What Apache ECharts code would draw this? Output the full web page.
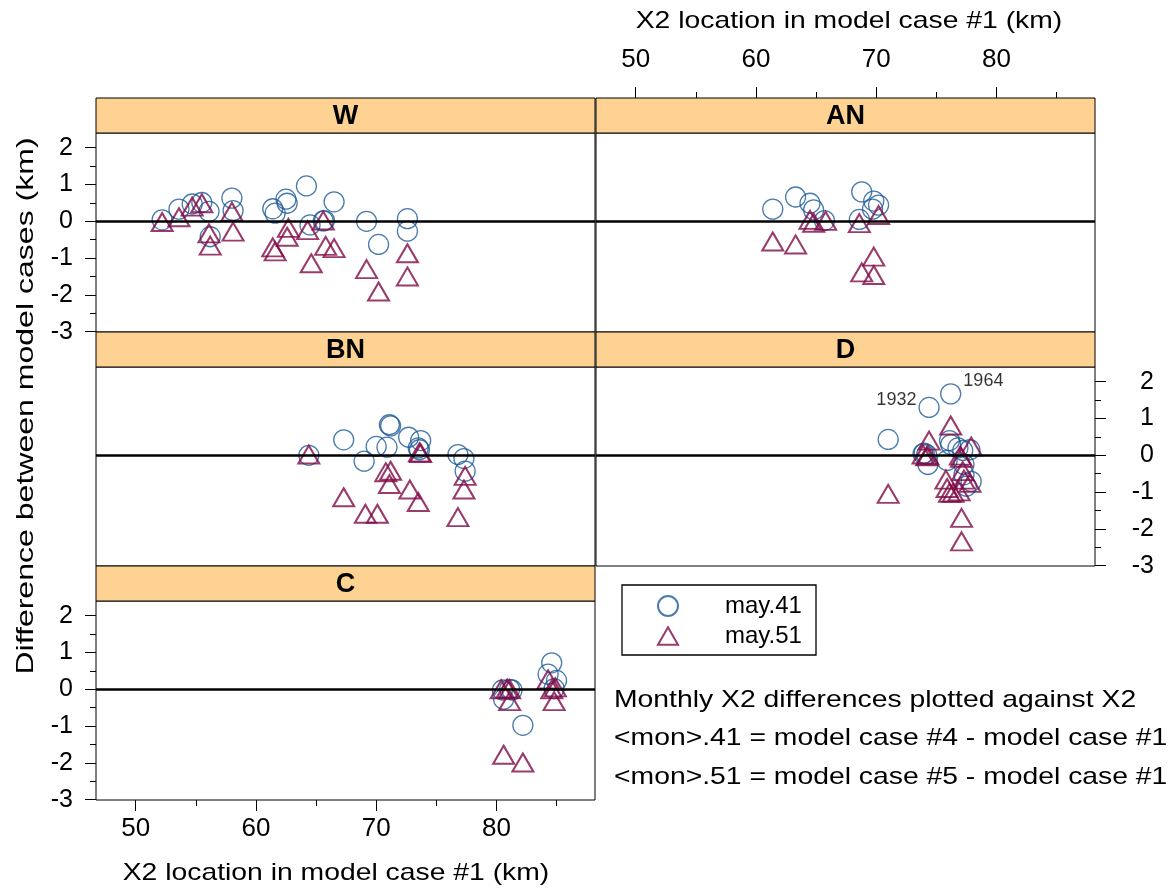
<!DOCTYPE html>
<html><head><meta charset="utf-8">
<script src="https://cdn.jsdelivr.net/npm/echarts@6/dist/echarts.min.js"></script>
<style>html,body{margin:0;padding:0;background:#fff}#c{width:1173px;height:892px}</style>
</head><body><div id="c"></div>
<script>
// ---------- data ----------
const panels = ['W', 'AN', 'BN', 'D', 'C'];
const seriesNames = ['may.41', 'may.51'];
const xTicks = [50, 60, 70, 80];
const xMinorTicks = [55, 65, 75, 85];
const yTicks = [-3, -2, -1, 0, 1, 2];
const yMinorTicks = [-2.5, -1.5, -0.5, 0.5, 1.5];
const xRange = [46.7, 88.2];
const yRange = [-3.01, 2.40];

const W_may41 = [[52.2,0.04],[53.6,0.33],[54.7,0.47],[55.5,0.51],[56.1,0.27],[56.2,-0.42],[58.0,0.63],[58.1,0.29],[61.4,0.34],[61.6,0.22],[62.5,0.60],[62.6,0.49],[64.2,0.96],[64.5,-0.10],[65.6,0.01],[65.7,0.02],[66.5,0.53],[69.2,0.0],[70.2,-0.63],[72.6,0.07],[72.6,-0.27]];
const W_may51 = [[52.2,-0.02],[53.6,0.11],[54.7,0.40],[55.5,0.49],[56.1,-0.33],[56.2,-0.66],[58.0,0.26],[58.1,-0.28],[61.4,-0.71],[61.6,-0.82],[62.7,-0.18],[62.6,-0.42],[64.3,-0.24],[64.6,-1.14],[65.6,0.02],[65.8,-0.67],[66.5,-0.73],[69.2,-1.30],[70.2,-1.91],[72.6,-0.87],[72.6,-1.50]];
const AN_may41 = [[61.4,0.33],[63.3,0.66],[64.5,0.49],[64.8,0.31],[65.7,0.02],[68.8,0.80],[69.8,0.55],[70.2,0.44],[68.6,0.05],[69.7,0.33]];
const AN_may51 = [[61.4,-0.55],[63.3,-0.63],[64.5,0.04],[64.8,-0.04],[65.8,0.01],[68.6,-0.05],[70.2,0.17],[69.8,-0.96],[68.8,-1.39],[69.8,-1.46]];
const BN_may41 = [[64.4,0.0],[67.3,0.42],[69.0,-0.16],[70.0,0.24],[70.9,0.22],[71.1,0.83],[71.2,0.80],[72.7,0.49],[73.7,0.40],[73.5,0.20],[73.6,0.15],[76.8,0.02],[77.3,-0.09],[77.4,-0.43]];
const BN_may51 = [[64.4,0.02],[67.3,-1.14],[69.1,-1.59],[70.1,-1.59],[70.8,-0.46],[71.2,-0.42],[71.1,-0.78],[72.8,-0.93],[73.5,-1.27],[73.6,0.08],[73.7,0.06],[77.4,-0.56],[77.3,-0.93],[76.8,-1.68]];
const D_may41 = [[74.4,1.30],[76.2,1.67],[71.0,0.43],[74.0,0.06],[74.2,0.02],[74.3,-0.25],[76.1,0.40],[76.2,0.29],[75.9,-0.14],[76.8,0.20],[77.2,0.13],[77.8,0.15],[77.3,-0.25],[77.3,-0.53],[77.9,-0.71],[77.5,-0.84],[73.9,0.04]];
const D_may41_years = ['1932', '1964'];
const D_may51 = [[71.0,-1.05],[74.4,0.40],[76.2,0.81],[73.9,0.02],[74.2,-0.03],[74.3,0.0],[77.9,0.24],[77.0,-0.01],[77.1,-0.07],[75.8,-0.66],[75.9,-0.89],[76.1,-1.02],[76.4,-1.02],[77.2,-0.43],[77.8,-0.75],[77.1,-1.70],[77.1,-2.34],[76.9,-0.98],[77.3,-0.66]];
const C_may41 = [[80.5,-0.02],[80.6,-0.27],[81.1,0.0],[81.3,-0.02],[82.2,-0.98],[84.6,0.72],[84.3,0.41],[85.0,0.24],[84.8,0.02]];
const C_may51 = [[80.4,0.0],[80.9,0.02],[81.1,0.0],[81.1,-0.32],[80.6,-1.78],[82.2,-1.99],[84.3,0.27],[84.9,0.05],[84.6,0.0],[84.8,-0.32]];

const xTitle = 'X2 location in model case #1 (km)';
const yTitle = 'Difference between model cases (km)';
const notes = ['Monthly X2 differences plotted against X2',
               '<mon>.41 = model case #4 - model case #1',
               '<mon>.51 = model case #5 - model case #1'];

const panelData = {
  W: [W_may41, W_may51], AN: [AN_may41, AN_may51], BN: [BN_may41, BN_may51],
  D: [D_may41, D_may51], C: [C_may41, C_may51]
};
const panelYears = { D: D_may41_years };

// ---------- layout / style ----------
const FONT = '"Liberation Sans", Arial, Helvetica, sans-serif';
const COL41 = '#1d5a98', COL51 = '#800a46', STRIP = '#fdd293';
const PW = 499, PH = 199, SH = 35;
const colX = [96, 596], rowY = [133, 367, 601];
const pos = { W: [0, 0], AN: [1, 0], BN: [0, 1], D: [1, 1], C: [0, 2] };
const axisCfg = { W: { y: 'left' }, AN: { x: 'top' }, BN: {}, D: { y: 'right' }, C: { x: 'bottom', y: 'left' } };
const TRI_PATH = 'path://M0,17.32L10,0L20,17.32Z';

const grids = [], xAxes = [], yAxes = [], series = [], graphics = [];

function makeX(gi, p, minor) {
  return {
    type: 'value', gridIndex: gi, min: xRange[0], max: xRange[1], show: !!p,
    position: p || 'bottom', offset: p === 'top' ? SH : 0,
    axisLine: { show: false, onZero: false }, splitLine: { show: false },
    axisTick: { show: true, length: minor ? 6 : 11, lineStyle: { color: '#000', width: 1 },
                customValues: minor ? xMinorTicks : xTicks },
    axisLabel: { show: !minor, customValues: xTicks, fontSize: 26, color: '#000', fontFamily: FONT,
                 margin: p === 'top' ? 25 : 16 }
  };
}
function makeY(gi, p, minor) {
  return {
    type: 'value', gridIndex: gi, min: yRange[0], max: yRange[1], show: !!p,
    position: p || 'left',
    axisLine: { show: false, onZero: false }, splitLine: { show: false },
    axisTick: { show: true, length: minor ? 6 : 11, lineStyle: { color: '#000', width: 1 },
                customValues: minor ? yMinorTicks : yTicks },
    axisLabel: { show: !minor, customValues: yTicks, fontSize: 25, color: '#000', fontFamily: FONT,
                 align: 'right', margin: p === 'right' ? 59 : 23 }
  };
}

panels.forEach((p, gi) => {
  const [c, r] = pos[p];
  const left = colX[c], top = rowY[r];
  grids.push({ left, top, width: PW, height: PH, show: true, borderColor: '#000', borderWidth: 1, backgroundColor: '#fff' });
  const ax = axisCfg[p];
  const xi = xAxes.length;
  xAxes.push(makeX(gi, ax.x, false));
  if (ax.x) xAxes.push(makeX(gi, ax.x, true));
  const yi = yAxes.length;
  yAxes.push(makeY(gi, ax.y, false));
  if (ax.y) yAxes.push(makeY(gi, ax.y, true));

  const [d41, d51] = panelData[p];
  const years = panelYears[p] || [];
  const data41 = d41.map((v, k) => {
    if (!years[k]) return v;
    const isLeft = years[k] === '1932';
    return {
      value: v,
      label: {
        show: true, formatter: years[k], position: isLeft ? 'left' : 'right', distance: 2,
        offset: isLeft ? [0, -7] : [0, -13], fontSize: 18, color: '#000', fontFamily: FONT
      }
    };
  });
  series.push({
    name: seriesNames[0], type: 'scatter', xAxisIndex: xi, yAxisIndex: yi, data: data41,
    symbol: 'circle', symbolSize: 20, z: 3,
    itemStyle: { color: 'rgba(255,255,255,0)', borderColor: COL41, borderWidth: 1.3 },
    emphasis: { disabled: true },
    markLine: { silent: true, symbol: 'none', animation: false, label: { show: false },
                lineStyle: { color: '#000', width: 2.5, type: 'solid' }, data: [{ yAxis: 0 }] }
  });
  series.push({
    name: seriesNames[1], type: 'scatter', xAxisIndex: xi, yAxisIndex: yi, data: d51,
    symbol: 'triangle', symbolSize: [21, 18], z: 4,
    itemStyle: { color: 'rgba(255,255,255,0)', borderColor: COL51, borderWidth: 2 },
    emphasis: { disabled: true }
  });

  graphics.push({
    type: 'rect', shape: { x: left, y: top - SH, width: PW, height: SH },
    style: { fill: STRIP, stroke: '#000', lineWidth: 1 }, z: 10
  });
  graphics.push({
    type: 'text', x: left + PW / 2, y: top - SH / 2 + 1, z: 11,
    style: { text: p, fontSize: 27, fontWeight: 'bold', fontFamily: FONT, fill: '#000',
             align: 'center', verticalAlign: 'middle', textAlign: 'center', textVerticalAlign: 'middle' }
  });
});

function txt(text, x, y, opts) {
  return Object.assign({
    type: 'text', x, y, z: 11, scaleX: 1.18,
    style: { text, fontSize: 24, fontFamily: FONT, fill: '#000',
             align: 'center', verticalAlign: 'middle', textAlign: 'center', textVerticalAlign: 'middle' }
  }, opts || {});
}
graphics.push(txt(xTitle, 849, 21));
graphics.push(txt(xTitle, 336, 873));
graphics.push(txt(yTitle, 26, 406, { rotation: Math.PI / 2, scaleX: 1.335 }));
notes.forEach((n, k) => {
  const g = txt(n, 614, 700 + k * 38.5);
  g.style.align = 'left'; g.style.textAlign = 'left';
  graphics.push(g);
});
graphics.push({ type: 'rect', shape: { x: 622, y: 585, width: 194, height: 70 },
                style: { fill: 'none', stroke: '#000', lineWidth: 1.3 }, z: 10 });

const chart = echarts.init(document.getElementById('c'), null, { renderer: 'canvas' });
chart.setOption({
  animation: false,
  backgroundColor: '#fff',
  grid: grids, xAxis: xAxes, yAxis: yAxes, series,
  legend: {
    data: [{ name: seriesNames[0], icon: 'circle' }, { name: seriesNames[1], icon: TRI_PATH }],
    orient: 'vertical', left: 657, top: 594, itemWidth: 20, itemHeight: 20, itemGap: 6,
    selectedMode: false, padding: 0,
    textStyle: { fontSize: 24, lineHeight: 24, fontFamily: FONT, color: '#000', padding: [0, 0, 0, 42] }
  },
  graphic: graphics
});
</script></body></html>
